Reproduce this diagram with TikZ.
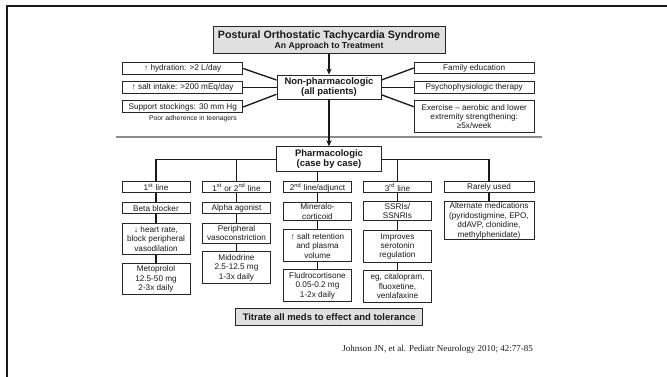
\documentclass[tikz,border=0pt]{standalone}
\usepackage{fontspec}
\setmainfont{Liberation Sans}
\newfontfamily\citefont{Liberation Serif}
\usetikzlibrary{arrows.meta,calc}
\begin{document}
\begin{tikzpicture}[x=0.75pt,y=-0.75pt,
  box/.style={draw=black!85,line width=0.75pt,inner sep=0pt,align=center,
    font=\fontsize{6.15}{7.1}\selectfont,text=black!90},
  boldbox/.style={box,font=\fontsize{7.1}{7.6}\selectfont\bfseries},
  sidebox/.style={box,minimum width=90pt,minimum height=8.5pt},
  colbox/.style={box,minimum width=51pt},
  widebox/.style={box,minimum width=67.5pt},
  conn/.style={line width=1pt,black!90},
  arr/.style={conn,-{Stealth[length=4.5pt,width=4pt]}},
  shaded/.style={fill=black!12}
]
\useasboundingbox (0,0) rectangle (667,377);
% frame
\coordinate (fr1) at (667,6.2);
\coordinate (fr2) at (7,6.2);
\coordinate (fr3) at (7,377);
\draw[line width=1.7pt,black!90] (fr1) -- (fr2) -- (fr3);

% title
\node[box,shaded,minimum width=174pt,minimum height=20.25pt,font=\fontsize{8}{8.1}\selectfont\bfseries] (title) at (329,40.5)
  {Postural Orthostatic Tachycardia Syndrome\\
   {\fontsize{6.5}{8.1}\selectfont An Approach to Treatment}};

% non-pharmacologic
\node[boldbox,minimum width=78pt,minimum height=18.2pt] (np) at (329,87.2)
  {Non-pharmacologic\\(all patients)};

% left side
\node[sidebox] (hyd) at (182.7,68.5) {↑ hydration: >2 L/day};
\node[sidebox] (salt) at (182.7,87.5) {↑ salt intake: >200 mEq/day};
\node[sidebox,minimum height=9pt] (stock) at (182.7,107) {Support stockings: 30 mm Hg};
\node[inner sep=0pt,font=\fontsize{5.1}{6}\selectfont,text=black!90] (poor) at (193,118.3)
  {Poor adherence in teenagers};

% right side
\node[sidebox] (fam) at (474.2,68) {Family education};
\node[sidebox,minimum height=9pt] (psy) at (474.2,87.7) {Psychophysiologic therapy};
\node[sidebox,minimum height=23.7pt,font=\fontsize{6.15}{6.9}\selectfont] (ex) at (474.2,116.5)
  {Exercise -- aerobic and lower\\extremity strengthening:\\≥5x/week};

\draw[arr] (title.south) -- (np.north);
\draw[conn] (hyd.east) -- ([yshift=5.4pt]np.west);
\draw[conn] (salt.east) -- (salt.east -| np.west);
\draw[conn] (stock.east) -- ([yshift=-5.3pt]np.west);
\draw[conn] ([yshift=5.4pt]np.east) -- (fam.west);
\draw[conn] (psy.west -| np.east) -- (psy.west);
\draw[conn] ([yshift=-5.7pt]np.east) -- ([yshift=7.35pt]ex.west);

% divider
\coordinate (dl) at (116,137);
\coordinate (dr) at (542,137);
\draw[black!45,line width=1.6pt] (dl) -- (dr);

% pharmacologic
\node[boldbox,minimum width=78.75pt,minimum height=18.75pt] (ph) at (329,159.2)
  {Pharmacologic\\(case by case)};
\draw[arr] (np.south) -- (ph.north);

% column headers
\node[colbox,minimum height=8.25pt] (h1) at (156,187.5) {1\textsuperscript{st} line};
\node[colbox,minimum height=8.25pt] (h2) at (236.5,187.5) {1\textsuperscript{st} or 2\textsuperscript{nd} line};
\node[colbox,minimum height=8.25pt] (h3) at (317.5,187.5) {2\textsuperscript{nd} line/adjunct};
\node[colbox,minimum height=8.25pt] (h4) at (397.5,187.5) {3\textsuperscript{rd} line};
\node[widebox,minimum height=8.25pt] (h5) at (489,187.5) {Rarely used};

\draw[conn] (ph.west) -- (h1.north |- ph.west) -- (h1.north);
\draw[conn] (h2.north |- ph.west) -- (h2.north);
\draw[conn] (h3.north |- ph.south) -- (h3.north);
\draw[conn] (ph.east) -- (h5.north |- ph.east) -- (h5.north);
\draw[conn] (h4.north |- ph.east) -- (h4.north);

% column 1
\node[colbox,minimum height=8.5pt] (a1) at (156,208.3) {Beta blocker};
\node[colbox,minimum height=23pt] (b1) at (156,238.7) {↓ heart rate,\\block peripheral\\vasodilation};
\node[colbox,minimum height=23.7pt] (c1) at (156,279.2) {Metoprolol\\12.5-50 mg\\2-3x daily};
% column 2
\node[colbox,minimum height=8.5pt] (a2) at (236.5,208.3) {Alpha agonist};
\node[colbox,minimum height=15pt] (b2) at (236.5,233.3) {Peripheral\\vasoconstriction};
\node[colbox,minimum height=23.7pt] (c2) at (236.5,267.5) {Midodrine\\2.5-12.5 mg\\1-3x daily};
% column 3
\node[colbox,minimum height=13.7pt] (a3) at (317.5,211.6) {Mineralo-\\corticoid};
\node[colbox,minimum height=24pt] (b3) at (317.5,246) {↑ salt retention\\and plasma\\volume};
\node[colbox,minimum height=23.7pt] (c3) at (317.5,285.8) {Fludrocortisone\\0.05-0.2 mg\\1-2x daily};
% column 4
\node[colbox,minimum height=14.2pt] (a4) at (397.5,211.2) {SSRIs/\\SSNRIs};
\node[colbox,minimum height=23.7pt] (b4) at (397.5,246.5) {Improves\\serotonin\\regulation};
\node[colbox,minimum height=23.7pt] (c4) at (397.5,286.5) {eg, citalopram,\\fluoxetine,\\venlafaxine};
% column 5
\node[widebox,minimum height=28.7pt] (a5) at (489,220.8)
  {Alternate medications\\(pyridostigmine, EPO,\\ddAVP, clonidine,\\methylphenidate)};

\foreach \c in {1,2,3,4}{
  \draw[conn] (h\c.south) -- (a\c.north);
  \draw[conn] (a\c.south) -- (b\c.north);
  \draw[conn] (b\c.south) -- (c\c.north);
}
\draw[conn] (h5.south) -- (a5.north);

% titrate
\node[boldbox,shaded,minimum width=140.25pt,minimum height=12.5pt] (tit) at (329.2,316.7)
  {Titrate all meds to effect and tolerance};

% citation
\node[inner sep=0pt,font=\citefont\fontsize{6.75}{8}\selectfont,text=black!90] (cite) at (437.7,349)
  {Johnson JN, et al. Pediatr Neurology 2010; 42:77-85};
\end{tikzpicture}
\end{document}
